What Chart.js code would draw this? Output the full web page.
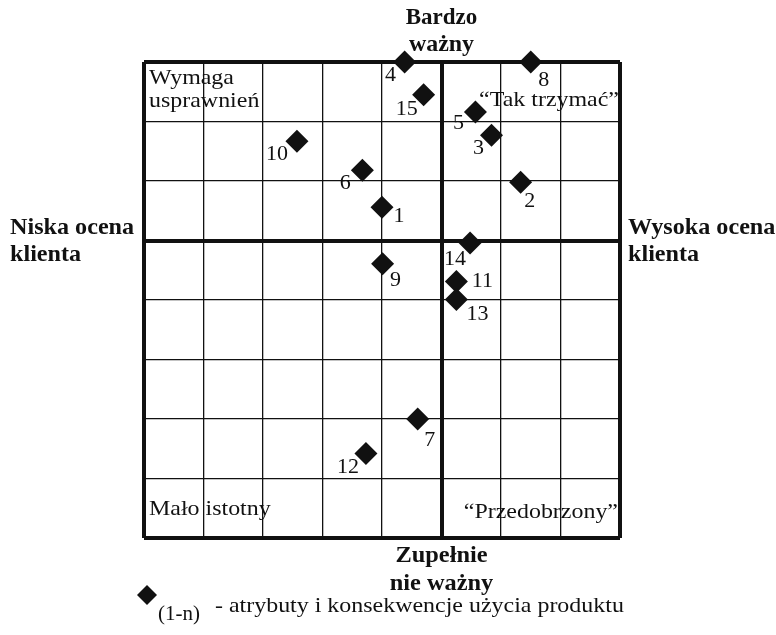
<!DOCTYPE html>
<html>
<head>
<meta charset="utf-8">
<script src="https://cdn.jsdelivr.net/npm/chart.js@4/dist/chart.umd.min.js"></script>
<style>
html,body{margin:0;padding:0;background:#fff;}
#wrap{width:776px;height:635px;position:relative;}
</style>
</head>
<body>
<div id="wrap"><canvas id="c" width="776" height="635"></canvas></div>
<script>
// ---- data ----
const pointIds = ["1","2","3","4","5","6","7","8","9","10","11","12","13","14","15"];
const customerRating = [4.0, 6.33, 5.84, 4.38, 5.57, 3.67, 4.60, 6.50, 4.01, 2.57, 5.25, 3.73, 5.25, 5.48, 4.70];
const importance     = [5.56, 5.98, 6.77, 8.0, 7.16, 6.18, 2.0, 8.0, 4.61, 6.67, 4.31, 1.42, 4.01, 4.96, 7.45];
const axisMin = 0, axisMax = 8, axisStep = 1, dividerValue = 5;
const quadrantLabels = { tl: ["Wymaga", "usprawnień"], tr: ["\u201cTak trzymać\u201d"], bl: ["Mało istotny"], br: ["\u201cPrzedobrzony\u201d"] };
const axisTitles = { top: ["Bardzo", "ważny"], bottom: ["Zupełnie", "nie ważny"], left: ["Niska ocena", "klienta"], right: ["Wysoka ocena", "klienta"] };
const legendText = ["(1-n)", "- atrybuty i konsekwencje użycia produktu"];

// ---- label placement (style) ----
const labelOffsets = {
  "1":[17,9],"2":[9,19],"3":[-13,13],"4":[-14,13],"5":[-17,11],"6":[-17,13],"7":[12,21],
  "8":[13,18],"9":[13,17],"10":[-20,13],"11":[26,0],"12":[-18,14],"13":[21,15],"14":[-15,16],"15":[-17,14]
};
const SERIF = '"Liberation Serif", "Times New Roman", serif';
const INK = '#111';

const points = pointIds.map((id, i) => ({ x: customerRating[i], y: importance[i], id }));

function stretchText(ctx, text, x, y, align, sx) {
  ctx.save();
  ctx.translate(x, y);
  ctx.scale(sx, 1);
  ctx.textAlign = align;
  ctx.fillText(text, 0, 0);
  ctx.restore();
}

const textPlugin = {
  id: 'texts',
  afterDatasetsDraw(chart) {
    const ctx = chart.ctx;
    const meta = chart.getDatasetMeta(0);
    ctx.save();
    ctx.fillStyle = INK;
    ctx.textBaseline = 'middle';
    ctx.font = '22px ' + SERIF;
    meta.data.forEach((el, i) => {
      const id = pointIds[i];
      const off = labelOffsets[id] || [12, 12];
      stretchText(ctx, id, el.x + off[0], el.y + off[1], 'center', 1.0);
    });
    ctx.restore();
  },
  afterDraw(chart) {
    const ctx = chart.ctx;
    const a = chart.chartArea;
    const cx = chart.scales.x.getPixelForValue(dividerValue);
    const cy = chart.scales.y.getPixelForValue(dividerValue);
    ctx.save();
    ctx.fillStyle = INK;
    ctx.textBaseline = 'middle';
    // quadrant labels
    ctx.font = '21px ' + SERIF;
    stretchText(ctx, quadrantLabels.tl[0], a.left + 5, a.top + 16, 'left', 1.14);
    stretchText(ctx, quadrantLabels.tl[1], a.left + 5, a.top + 39, 'left', 1.14);
    stretchText(ctx, quadrantLabels.bl[0], a.left + 5, a.bottom - 29, 'left', 1.14);
    stretchText(ctx, quadrantLabels.tr[0], a.right - 1, a.top + 38, 'right', 1.14);
    stretchText(ctx, quadrantLabels.br[0], a.right - 2, a.bottom - 26, 'right', 1.14);
    // axis titles
    ctx.font = 'bold 23px ' + SERIF;
    stretchText(ctx, axisTitles.top[0], cx, 18, 'center', 1.0);
    stretchText(ctx, axisTitles.top[1], cx, 45, 'center', 1.04);
    stretchText(ctx, axisTitles.bottom[0], cx, a.bottom + 18, 'center', 1.06);
    stretchText(ctx, axisTitles.bottom[1], cx, a.bottom + 46, 'center', 1.06);
    stretchText(ctx, axisTitles.left[0], 10, cy - 12, 'left', 1.05);
    stretchText(ctx, axisTitles.left[1], 10, cy + 15, 'left', 1.05);
    stretchText(ctx, axisTitles.right[0], a.right + 8, cy - 12, 'left', 1.05);
    stretchText(ctx, axisTitles.right[1], a.right + 8, cy + 15, 'left', 1.05);
    // legend
    const lx = 147, ly = 595, r = 10;
    ctx.beginPath();
    ctx.moveTo(lx - r, ly); ctx.lineTo(lx, ly - r); ctx.lineTo(lx + r, ly); ctx.lineTo(lx, ly + r); ctx.closePath();
    ctx.fill();
    ctx.font = '21px ' + SERIF;
    stretchText(ctx, legendText[0], 158, 614, 'left', 1.0);
    stretchText(ctx, legendText[1], 215, 606, 'left', 1.14);
    ctx.restore();
  }
};

const thick = v => (v === dividerValue || v === axisMin || v === axisMax) ? 4 : 1.3;

new Chart(document.getElementById('c'), {
  type: 'scatter',
  data: {
    datasets: [{
      data: points,
      pointStyle: 'rectRot',
      pointRadius: 11.5,
      pointHoverRadius: 11.5,
      backgroundColor: INK,
      borderColor: INK,
      borderWidth: 0,
      clip: false
    }]
  },
  options: {
    responsive: false,
    animation: false,
    events: [],
    layout: { padding: { left: 144, right: 156, top: 62, bottom: 97 } },
    plugins: { legend: { display: false }, tooltip: { enabled: false } },
    scales: {
      x: {
        type: 'linear', min: axisMin, max: axisMax,
        ticks: { display: false, stepSize: axisStep },
        border: { display: false },
        grid: { drawTicks: false, color: INK, lineWidth: c => thick(c.tick ? c.tick.value : null) }
      },
      y: {
        type: 'linear', min: axisMin, max: axisMax,
        ticks: { display: false, stepSize: axisStep },
        border: { display: false },
        grid: { drawTicks: false, color: INK, lineWidth: c => thick(c.tick ? c.tick.value : null) }
      }
    }
  },
  plugins: [textPlugin]
});
</script>
</body>
</html>
